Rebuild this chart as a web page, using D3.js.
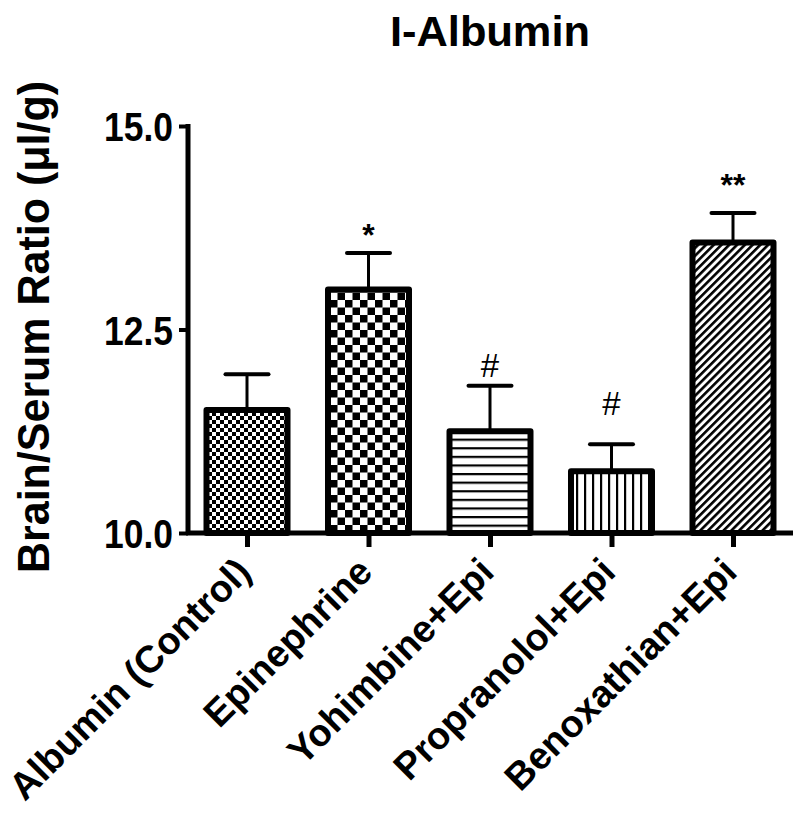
<!DOCTYPE html>
<html>
<head>
<meta charset="utf-8">
<script src="https://cdnjs.cloudflare.com/ajax/libs/d3/7.8.5/d3.min.js"></script>
<style>
  body { margin: 0; background: #fff; }
  svg text { font-family: "Liberation Sans", Arial, sans-serif; fill: #000; }
</style>
</head>
<body>
<script>
var categories = ["Albumin (Control)", "Epinephrine", "Yohimbine+Epi", "Propranolol+Epi", "Benoxathian+Epi"];
var means = [11.51, 12.99, 11.25, 10.76, 13.57];
var sems = [0.44, 0.45, 0.56, 0.33, 0.36];
var marks = ["", "*", "#", "#", "**"];
// level (in y units) of each mark's baseline
var markLevels = [null, 13.52, 11.92, 11.45, 14.14];
var fills = ["checkFine", "checkCoarse", "hLines", "vLines", "diagLines"];
var yTicks = [10.0, 12.5, 15.0];

var width = 796, height = 819;

var svg = d3.select("body").append("svg")
  .attr("width", width)
  .attr("height", height);

var defs = svg.append("defs");

// fine checkerboard
var p = defs.append("pattern").attr("id", "checkFine")
  .attr("patternUnits", "userSpaceOnUse").attr("width", 8).attr("height", 8);
p.append("rect").attr("width", 8).attr("height", 8).attr("fill", "#fff");
p.append("rect").attr("width", 4).attr("height", 4).attr("fill", "#000");
p.append("rect").attr("x", 4).attr("y", 4).attr("width", 4).attr("height", 4).attr("fill", "#000");

// coarse checkerboard
p = defs.append("pattern").attr("id", "checkCoarse")
  .attr("patternUnits", "userSpaceOnUse").attr("width", 15).attr("height", 15);
p.append("rect").attr("width", 15).attr("height", 15).attr("fill", "#fff");
p.append("rect").attr("width", 7.5).attr("height", 7.5).attr("fill", "#000");
p.append("rect").attr("x", 7.5).attr("y", 7.5).attr("width", 7.5).attr("height", 7.5).attr("fill", "#000");

// horizontal lines
p = defs.append("pattern").attr("id", "hLines")
  .attr("patternUnits", "userSpaceOnUse").attr("width", 10).attr("height", 8.6);
p.append("rect").attr("width", 10).attr("height", 8.6).attr("fill", "#fff");
p.append("rect").attr("y", 0).attr("width", 10).attr("height", 2.2).attr("fill", "#000");

// vertical lines
p = defs.append("pattern").attr("id", "vLines")
  .attr("patternUnits", "userSpaceOnUse").attr("width", 8).attr("height", 10);
p.append("rect").attr("width", 8).attr("height", 10).attr("fill", "#fff");
p.append("rect").attr("x", 0).attr("width", 2.2).attr("height", 10).attr("fill", "#000");

// diagonal lines (/)
p = defs.append("pattern").attr("id", "diagLines")
  .attr("patternUnits", "userSpaceOnUse").attr("width", 5.5).attr("height", 10)
  .attr("patternTransform", "rotate(45)");
p.append("rect").attr("width", 5.5).attr("height", 10).attr("fill", "#fff");
p.append("rect").attr("width", 2.6).attr("height", 10).attr("fill", "#000");

var x = d3.scalePoint()
  .domain(categories)
  .range([247, 733]);

var y = d3.scaleLinear()
  .domain([10, 15])
  .range([533, 126]);

var barW = 87;

var bars = svg.append("g").selectAll("g.bar")
  .data(categories)
  .enter().append("g").attr("class", "bar");

// error bars (upper only)
bars.append("line")
  .attr("x1", function(d) { return x(d); })
  .attr("x2", function(d) { return x(d); })
  .attr("y1", function(d, i) { return y(means[i]); })
  .attr("y2", function(d, i) { return y(means[i] + sems[i]); })
  .attr("stroke", "#000").attr("stroke-width", 3);

bars.append("line")
  .attr("x1", function(d) { return x(d) - 21.5; })
  .attr("x2", function(d) { return x(d) + 21.5; })
  .attr("y1", function(d, i) { return y(means[i] + sems[i]); })
  .attr("y2", function(d, i) { return y(means[i] + sems[i]); })
  .attr("stroke", "#000").attr("stroke-width", 4).attr("stroke-linecap", "round");

bars.append("rect")
  .attr("x", function(d) { return x(d) - barW / 2 + 3; })
  .attr("width", barW - 6)
  .attr("y", function(d, i) { return y(means[i]); })
  .attr("height", function(d, i) { return y(10) - y(means[i]); })
  .attr("fill", function(d, i) { return "url(#" + fills[i] + ")"; })
  .attr("stroke", "#000")
  .attr("stroke-width", 6)
  .attr("stroke-linejoin", "round");

// significance marks
bars.filter(function(d, i) { return marks[i] != ""; })
  .append("text")
  .attr("x", function(d) { return x(d); })
  .attr("y", function(d) { return y(markLevels[categories.indexOf(d)]); })
  .attr("text-anchor", "middle")
  .style("font-size", function(d) { return marks[categories.indexOf(d)] == "#" ? "33px" : "32px"; })
  .style("font-weight", function(d) { return marks[categories.indexOf(d)] == "#" ? "normal" : "bold"; })
  .text(function(d) { return marks[categories.indexOf(d)]; });

// y axis
var yAxis = svg.append("g")
  .attr("transform", "translate(188,0)")
  .call(d3.axisLeft(y).tickValues(yTicks).tickFormat(d3.format(".1f")).tickSize(9).tickPadding(6));

yAxis.select(".domain").attr("stroke-width", 5).attr("d", "M0," + (y(15) - 2) + "V" + (y(10) + 2));
yAxis.selectAll(".tick line").attr("stroke-width", 4);
yAxis.selectAll(".tick text")
  .attr("dy", "0.36em")
  .attr("textLength", 69)
  .attr("lengthAdjust", "spacingAndGlyphs")
  .style("font-size", "41px").style("font-weight", "bold")
  .style("font-family", "'Liberation Sans', Arial, sans-serif");

// x axis
var xAxis = svg.append("g")
  .attr("transform", "translate(0,533)")
  .call(d3.axisBottom(x).tickSize(14).tickFormat(""));

xAxis.select(".domain").attr("stroke-width", 5).attr("d", "M186,0H793");
xAxis.selectAll(".tick line").attr("stroke-width", 5);

// rotated category labels
svg.append("g").selectAll("text.cat")
  .data(categories)
  .enter().append("text")
  .attr("class", "cat")
  .attr("transform", function(d) { return "translate(" + (x(d) + 6) + ",574) rotate(-45)"; })
  .attr("text-anchor", "end")
  .style("font-size", "38px")
  .style("font-weight", "bold")
  .text(function(d) { return d; });

// y axis title
svg.append("text")
  .attr("transform", "translate(49,327) rotate(-90)")
  .attr("text-anchor", "middle")
  .attr("textLength", 492)
  .attr("lengthAdjust", "spacingAndGlyphs")
  .style("font-size", "44px")
  .style("font-weight", "bold")
  .text("Brain/Serum Ratio (\u03bcl/g)");

// chart title
svg.append("text")
  .attr("x", 490)
  .attr("y", 46)
  .attr("text-anchor", "middle")
  .attr("textLength", 200)
  .attr("lengthAdjust", "spacingAndGlyphs")
  .style("font-size", "42px")
  .style("font-weight", "bold")
  .text("I-Albumin");
</script>
</body>
</html>
